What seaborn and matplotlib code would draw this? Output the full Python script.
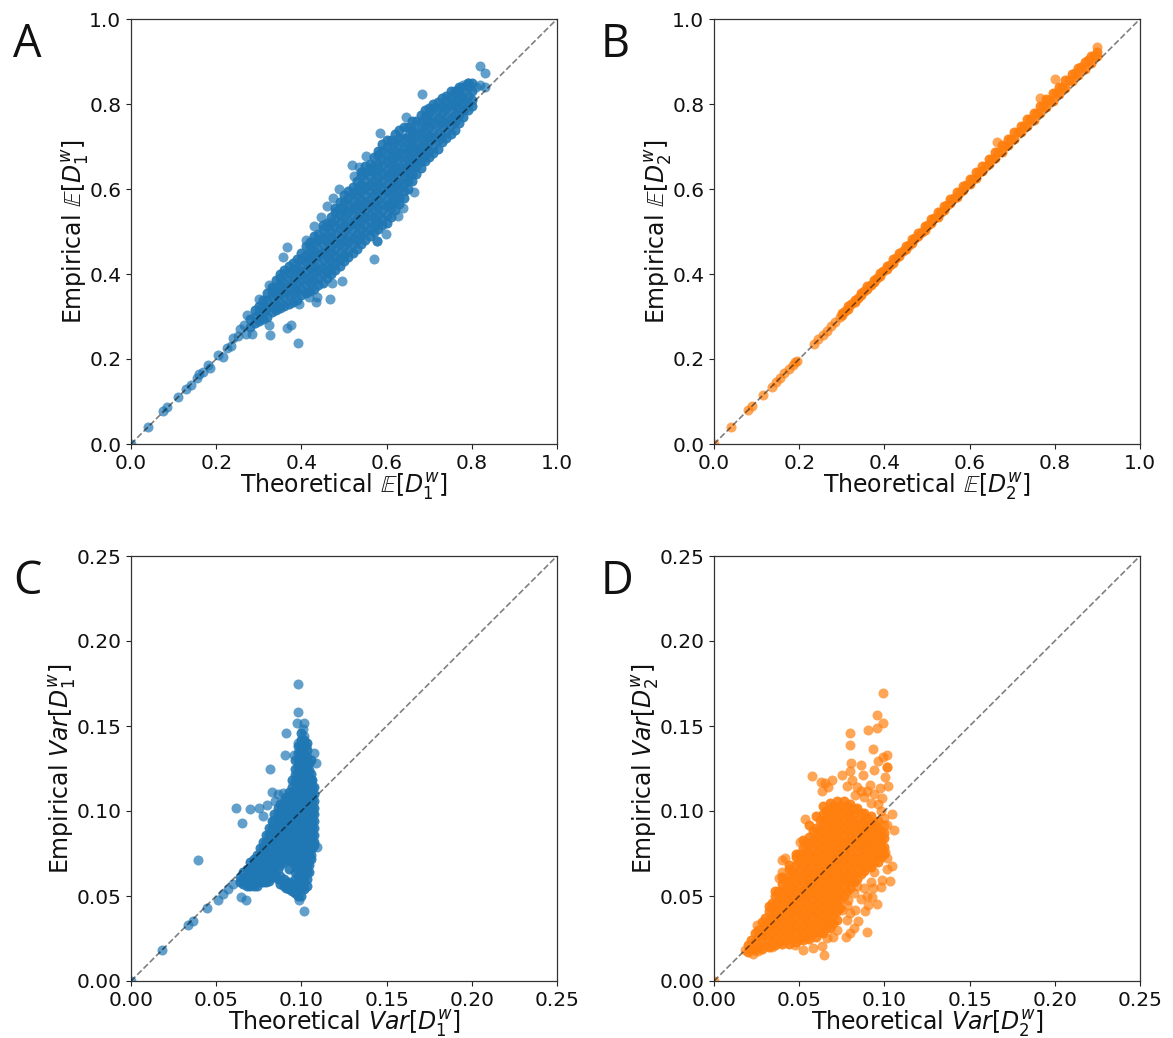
import pandas as pd
import matplotlib
matplotlib.use('Agg')
import matplotlib.pyplot as plt
import seaborn as sns

# values
# "body" = dense part of each cloud, one y list per x column; "edge" = loose points around it
a_body_x = [.28, .30, .32, .34, .36, .38, .40, .42, .44, .46, .48, .50, .52, .54, .56, .58, .60, .62, .64, .66, .68, .70, .72, .74, .76, .78, .80]
a_body_y = [
    [.275, .295],
    [.29, .31, .325],
    [.30, .32, .34, .355],
    [.315, .33, .35, .37, .385],
    [.325, .345, .36, .38, .40, .41],
    [.335, .355, .375, .39, .41, .425],
    [.35, .365, .385, .40, .42, .435, .45],
    [.36, .38, .395, .415, .43, .45, .465, .475],
    [.375, .39, .41, .425, .445, .46, .48, .495],
    [.39, .405, .42, .44, .455, .475, .49, .51, .52],
    [.41, .425, .44, .46, .475, .495, .51, .53, .545, .555],
    [.43, .445, .465, .48, .50, .515, .535, .55, .57, .585],
    [.45, .47, .485, .505, .52, .54, .555, .575, .59, .605],
    [.47, .49, .505, .525, .54, .56, .575, .595, .61, .63, .64],
    [.49, .505, .525, .54, .56, .575, .595, .61, .63, .645, .66],
    [.505, .52, .54, .555, .575, .59, .61, .625, .645, .66, .68, .69],
    [.52, .54, .56, .575, .595, .61, .63, .645, .665, .68, .70, .715],
    [.55, .57, .585, .605, .62, .64, .655, .675, .69, .71, .73],
    [.58, .595, .615, .63, .65, .665, .685, .70, .72, .745],
    [.62, .635, .655, .67, .69, .705, .725, .74, .76],
    [.65, .665, .685, .70, .72, .735, .755, .775],
    [.675, .69, .71, .725, .745, .76, .78, .79],
    [.695, .715, .73, .75, .765, .785, .805],
    [.72, .735, .755, .77, .79, .805, .82],
    [.74, .76, .775, .795, .81, .83],
    [.77, .785, .805, .82, .84],
    [.795, .81, .83, .85],
]
a_fill_x = [.29, .31, .33, .35, .37, .39, .41, .43, .45, .47, .49, .51, .53, .55, .57, .59, .61, .63, .65, .67, .69, .71, .73, .75, .77, .79]
a_fill_y = [
    [.285, .30, .315],
    [.295, .31, .325, .34],
    [.31, .325, .345, .36, .37],
    [.32, .335, .355, .375, .39, .40],
    [.33, .35, .37, .385, .405, .42],
    [.34, .36, .38, .40, .415, .435],
    [.355, .375, .39, .41, .43, .445, .465],
    [.365, .385, .405, .42, .44, .455, .475, .49],
    [.38, .40, .415, .435, .45, .47, .485, .505, .515],
    [.40, .415, .43, .45, .465, .485, .50, .52, .535],
    [.42, .435, .45, .47, .485, .505, .52, .54, .555, .57],
    [.44, .455, .475, .49, .51, .525, .545, .56, .58, .595],
    [.46, .48, .495, .515, .53, .55, .565, .585, .60, .62],
    [.48, .50, .515, .535, .55, .57, .585, .605, .62, .64, .655],
    [.50, .515, .535, .55, .57, .585, .605, .62, .64, .655, .675],
    [.515, .53, .55, .565, .585, .60, .62, .635, .655, .67, .69, .705],
    [.535, .555, .57, .59, .605, .625, .64, .66, .675, .695, .715],
    [.565, .58, .60, .615, .635, .65, .67, .685, .705, .72, .74],
    [.60, .62, .635, .655, .67, .69, .705, .725, .745],
    [.635, .655, .67, .69, .705, .725, .74, .76],
    [.665, .68, .70, .715, .735, .75, .77, .785],
    [.685, .70, .72, .735, .755, .77, .79, .80],
    [.71, .725, .745, .76, .78, .795, .815],
    [.73, .75, .765, .785, .80, .82, .83],
    [.755, .775, .79, .81, .825, .84],
    [.785, .80, .82, .84, .85],
]
a_edge_x = [.0, .04, .075, .085, .11, .13, .14, .155, .16, .17, .18, .185, .205, .215, .225, .235, .24, .25, .255, .265, .27, .285, .2715, .3012, .3247,
            .3247, .3262, .3669, .3747, .3927, .395, .4177, .4342, .4373, .467, .4709, .4944, .571, .5765, .5765, .5984, .6273, .6375, .664,
            .356, .3669, .4107, .4295, .4459, .4592, .4733, .4873, .5178, .524, .5358, .5507, .584, .646, .6836,
            .77, .78, .79, .81, .819, .82, .83, .8314]
a_edge_y = [.0, .04, .077, .088, .11, .13, .14, .155, .165, .17, .185, .178, .21, .205, .225, .23, .25, .255, .27, .28, .26, .2584, .304, .3407, .3744,
            .2803, .2568, .2725, .2803, .2372, .3297, .346, .335, .3453, .3407, .378, .3846, .4348, .4787, .4787, .495, .5375, .5547, .593,
            .441, .4638, .48, .513, .535, .561, .578, .6002, .656, .6315, .6527, .678, .7327, .77, .8236,
            .835, .845, .85, .84, .889, .845, .84, .874]

b_body_x = [.30, .315, .33, .345, .36, .375, .39, .405, .42, .435, .45, .465, .48, .495, .51, .525, .54, .555, .57, .585, .60,
            .615, .63, .645, .66, .675, .69, .705, .72, .735, .75, .765, .78, .795, .81, .825, .84, .855, .87, .885, .90]
b_body_y = [
    [.303, .308], [.318, .324], [.334, .34], [.35, .356], [.365, .372], [.381, .387], [.396, .403], [.411, .419], [.427, .435], [.442, .45],
    [.458, .466], [.473, .482], [.489, .497], [.504, .513], [.52, .529], [.535, .545], [.55, .56], [.566, .576], [.581, .592], [.597, .608],
    [.612, .624], [.627, .64], [.642, .655], [.658, .671], [.673, .687], [.688, .703], [.703, .718], [.718, .734], [.733, .749], [.748, .765],
    [.763, .78], [.778, .796], [.793, .811], [.808, .826], [.823, .841], [.838, .856], [.853, .871], [.868, .885], [.883, .899], [.897, .912], [.912, .922],
]
b_fill_x = [.3075, .3225, .3375, .3525, .3675, .3825, .3975, .4125, .4275, .4425, .4575, .4725, .4875, .5025, .5175, .5325, .5475, .5625, .5775, .5925,
            .6075, .6225, .6375, .6525, .6675, .6825, .6975, .7125, .7275, .7425, .7575, .7725, .7875, .8025, .8175, .8325, .8475, .8625, .8775, .8925]
b_fill_y = [
    [.3125], [.3285], [.344], [.36], [.375], [.391], [.407], [.422], [.438], [.453], [.469], [.484], [.50], [.516], [.531], [.547], [.562], [.578], [.593], [.609],
    [.624], [.64], [.655], [.671], [.686], [.702], [.717], [.733], [.748], [.764], [.779], [.795], [.81], [.826], [.841], [.857], [.872], [.888], [.903], [.914],
]
b_edge_x = [.0, .04, .08, .09, .115, .135, .145, .155, .165, .175, .185, .19, .195, .235, .245, .255, .265, .275, .285, .295, .664, .765, .80, .899]
b_edge_y = [.0, .04, .08, .09, .115, .135, .146, .156, .166, .176, .186, .192, .196, .236, .246, .257, .267, .277, .287, .298, .711, .814, .859, .934]

c_body_x = [.064, .068, .072, .0755, .079, .0825, .086, .0895, .093, .0965, .100, .103, .1055, .1075]
c_body_y = [
    [.061, .058],
    [.066, .062, .058, .056],
    [.072, .068, .064, .060, .056],
    [.078, .074, .070, .066, .062, .058],
    [.086, .082, .078, .074, .070, .066, .062, .058],
    [.094, .090, .086, .082, .078, .074, .070, .066, .061],
    [.102, .098, .094, .090, .086, .082, .078, .074, .070, .066, .060],
    [.106, .102, .098, .094, .090, .086, .082, .078, .074, .070, .060, .056],
    [.111, .107, .103, .099, .095, .091, .087, .083, .079, .075, .071, .066, .058, .054],
    [.130, .125, .121, .117, .113, .109, .105, .101, .097, .093, .089, .085, .081, .077, .073, .069, .064, .060, .056, .052],
    [.146, .142, .138, .134, .130, .126, .122, .118, .114, .110, .106, .102, .098, .094, .090, .086, .082, .078, .074, .070, .066, .062, .058, .054, .050],
    [.140, .136, .132, .128, .124, .120, .116, .112, .108, .104, .100, .096, .092, .088, .084, .080, .076, .072, .068, .064, .060, .056],
    [.130, .122, .118, .114, .110, .106, .102, .098, .094, .090, .086, .082, .078, .074, .072],
    [.114, .110, .106, .102, .098, .094, .090, .086, .082, .080],
]
c_fill_x = [.066, .070, .0737, .0772, .0807, .0842, .0877, .0912, .0947, .0982, .1015, .1043, .1065]
c_fill_y = [
    [.064, .060, .057],
    [.070, .066, .062, .058, .056],
    [.074, .070, .066, .062, .058, .056],
    [.082, .078, .074, .070, .066, .062, .058],
    [.090, .086, .082, .078, .074, .070, .066, .062, .059],
    [.098, .094, .090, .086, .082, .078, .074, .070, .066, .062],
    [.104, .100, .096, .092, .088, .084, .080, .076, .072, .068, .062, .057],
    [.108, .104, .100, .096, .092, .088, .084, .080, .076, .072, .058, .055],
    [.118, .114, .110, .106, .102, .098, .094, .090, .086, .082, .078, .074, .070, .056, .053],
    [.138, .134, .130, .126, .122, .118, .114, .110, .106, .102, .098, .094, .090, .086, .082, .078, .074, .070, .066, .062, .058, .054, .050],
    [.142, .138, .134, .130, .126, .122, .118, .114, .110, .106, .102, .098, .094, .090, .086, .082, .078, .074, .070, .066, .062, .058, .054],
    [.128, .124, .120, .116, .112, .108, .104, .100, .096, .092, .088, .084, .080, .076, .072, .068, .064],
    [.118, .114, .110, .106, .102, .098, .094, .090, .086, .082, .078],
]
c_edge_x = [.0, .018, .0335, .0364, .0393, .0446, .0511, .054, .057, .060, .0646, .0675, .0651, .0616, .0698, .0751, .0775, .0798, .0816, .0827, .0845, .086, .0892,
            .0904, .091, .0955, .0975, .098, .098, .098, .101, .1014, .1015, .1015, .0986, .1027, .1073, .1086, .1092]
c_edge_y = [.0, .018, .033, .0353, .0712, .043, .0476, .051, .054, .057, .0494, .0476, .093, .102, .1012, .102, .097, .1035, .1247, .111, .106, .110, .1105,
            .133, .146, .133, .152, .1747, .158, .140, .148, .144, .152, .0412, .0476, .138, .134, .128, .0788]

d_body_x = [.020, .024, .028, .032, .036, .040, .044, .048, .052, .056, .060, .064, .068, .072, .076, .080, .084, .088, .092, .096, .100]
d_body_y = [
    [.017, .021],
    [.018, .023, .028],
    [.019, .024, .029, .035],
    [.020, .026, .031, .036, .041, .044],
    [.021, .025, .030, .035, .040, .045, .050, .053],
    [.022, .027, .032, .037, .042, .047, .052, .057, .061],
    [.022, .026, .031, .036, .041, .046, .051, .056, .061, .066, .068],
    [.023, .028, .033, .038, .043, .048, .053, .058, .063, .068, .073, .075],
    [.024, .028, .033, .038, .043, .048, .053, .058, .063, .068, .073, .078, .083],
    [.025, .030, .035, .040, .045, .050, .055, .060, .065, .070, .075, .080, .085, .092],
    [.026, .030, .035, .040, .045, .050, .055, .060, .065, .070, .075, .080, .085, .090, .097],
    [.028, .033, .038, .043, .048, .053, .058, .063, .068, .073, .078, .083, .088, .093, .098, .103],
    [.031, .035, .040, .045, .050, .055, .060, .065, .070, .075, .080, .085, .090, .095, .100, .105],
    [.036, .041, .046, .051, .056, .061, .066, .071, .076, .081, .086, .091, .096, .101, .106],
    [.050, .055, .060, .065, .070, .075, .080, .085, .090, .095, .100, .106],
    [.055, .059, .064, .069, .074, .079, .084, .089, .094, .099, .104],
    [.060, .065, .070, .075, .080, .085, .090, .095, .102],
    [.065, .069, .074, .079, .084, .089, .094, .099],
    [.067, .072, .077, .082, .087, .092, .097],
    [.070, .075, .080, .085, .090, .094],
    [.075, .079, .084, .087],
]
d_fill_x = [.022, .026, .030, .034, .038, .042, .046, .050, .054, .058, .062, .066, .070, .074, .078, .082, .086, .090, .094, .098]
d_fill_y = [
    [.019, .024],
    [.020, .026, .030],
    [.021, .027, .033, .037],
    [.023, .028, .033, .038, .043, .046],
    [.023, .028, .033, .038, .043, .048, .053],
    [.024, .029, .034, .039, .044, .049, .054, .059],
    [.025, .030, .035, .040, .045, .050, .055, .060, .065],
    [.025, .030, .035, .040, .045, .050, .055, .060, .065, .070, .075],
    [.026, .031, .036, .041, .046, .051, .056, .061, .066, .071, .076, .081],
    [.028, .033, .038, .043, .048, .053, .058, .063, .068, .073, .078, .083, .088],
    [.029, .034, .039, .044, .049, .054, .059, .064, .069, .074, .079, .084, .089, .095],
    [.031, .036, .041, .046, .051, .056, .061, .066, .071, .076, .081, .086, .091, .096, .100],
    [.034, .039, .044, .049, .054, .059, .064, .069, .074, .079, .084, .089, .094, .099, .103],
    [.043, .048, .053, .058, .063, .068, .073, .078, .083, .088, .093, .098, .103],
    [.053, .058, .063, .068, .073, .078, .083, .088, .093, .098, .103],
    [.058, .063, .068, .073, .078, .083, .088, .093, .098, .101],
    [.063, .068, .073, .078, .083, .088, .093, .099],
    [.067, .072, .077, .082, .087, .092, .096],
    [.070, .075, .080, .085, .090, .093],
    [.073, .078, .083, .088],
]
d_edge_x = [.0, .099, .0957, .0994, .0957, .0902, .0798, .0798, .0931, .1013, .099, .0962, .0802, .0861, .1013, .1013, .0798, .0941, .0573, .0626, .0651, .069, .0749, .0671, .0636,
            .0872, .0808, .1003, .1023, .0916, .0779, .0837, .0974, .0827, .0984, .1045, .1058, .1013, .0534, .0505, .0417, .0397, .0397, .0384, .025,
            .1003, .1013, .1043, .1013, .1033, .0984, .098, .0935, .0929, .0955, .0886, .0906, .0827, .0847, .0822, .0896, .0773, .0798, .0788, .0779,
            .0661, .0632, .0583, .0646, .0524, .0475, .0339, .0227, .0182, .026,
            .088, .092, .096, .094, .086, .09, .098, .0995, .10, .078, .082, .086, .088, .092, .08, .075, .072, .07, .094, .084, .09, .076]
d_edge_y = [.0, .1692, .1564, .1519, .149, .1476, .146, .1386, .1366, .1327, .1315, .1296, .1282, .1272, .1257, .1257, .1237, .1241, .1208, .1172, .1163, .1182, .121, .1143, .112,
            .1212, .1182, .1198, .1147, .1153, .1147, .1143, .1133, .1094, .1074, .0982, .0886, .0918, .0953, .082, .0722, .0712, .0643, .0604, .033,
            .0761, .0722, .0678, .0659, .0588, .0594, .0551, .0545, .0492, .0453, .0414, .0447, .0418, .0353, .031, .0288, .0257, .0281, .0477, .0359,
            .0251, .0206, .0192, .0155, .0183, .0212, .0202, .0159, .0183, .0177,
            .108, .105, .104, .110, .112, .112, .100, .092, .096, .045, .052, .048, .055, .058, .04, .042, .03, .026, .064, .056, .05, .06]

panel_letters = ['A', 'B', 'C', 'D']
mean_ticks = [0.0, 0.2, 0.4, 0.6, 0.8, 1.0]
var_ticks = [0.0, 0.05, 0.10, 0.15, 0.20, 0.25]
blue = '#1f77b4'
orange = '#ff7f0e'


def make_frame(body_x, body_y):
    rows = []
    for x, ys in zip(body_x, body_y):
        for y in ys:
            rows.append({'theoretical': x, 'empirical': y})
    return pd.DataFrame(rows)


panels = [
    (make_frame(a_body_x + a_fill_x, a_body_y + a_fill_y), a_edge_x, a_edge_y, blue, mean_ticks, r'\mathbb{E}[D_1^w]'),
    (make_frame(b_body_x + b_fill_x, b_body_y + b_fill_y), b_edge_x, b_edge_y, orange, mean_ticks, r'\mathbb{E}[D_2^w]'),
    (make_frame(c_body_x + c_fill_x, c_body_y + c_fill_y), c_edge_x, c_edge_y, blue, var_ticks, r'Var[D_1^w]'),
    (make_frame(d_body_x + d_fill_x, d_body_y + d_fill_y), d_edge_x, d_edge_y, orange, var_ticks, r'Var[D_2^w]'),
]

sns.set_style('ticks')
plt.rcParams['font.family'] = ['DejaVu Sans']
plt.rcParams['mathtext.fontset'] = 'dejavusans'

fig, axes = plt.subplots(2, 2, figsize=(11.73, 10.38), dpi=100)
fig.subplots_adjust(left=131 / 1173, right=1140 / 1173, top=1 - 19 / 1038, bottom=1 - 981 / 1038,
                    wspace=157 / 426, hspace=112 / 425)

letter_pos = [(13, 57), (601, 57), (13, 594), (601, 594)]
for ax, (df, edge_x, edge_y, color, ticks, name), letter, pos in zip(axes.flat, panels, panel_letters, letter_pos):
    # the body is drawn more opaque: the real cloud has far more overlapping points
    sns.scatterplot(data=df, x='theoretical', y='empirical', color=color, s=52, alpha=0.9,
                    linewidth=0, legend=False, ax=ax)
    sns.scatterplot(x=edge_x, y=edge_y, color=color, s=52, alpha=0.7,
                    linewidth=0, legend=False, ax=ax)
    lim = ticks[-1]
    ax.plot([0, lim], [0, lim], 'k--', alpha=0.5, linewidth=1.2, zorder=5)
    ax.set_xlim(0, lim)
    ax.set_ylim(0, lim)
    ax.set_xticks(ticks)
    ax.set_yticks(ticks)
    ax.set_xticklabels(['{:.2f}'.format(t) if lim < 1 else '{:.1f}'.format(t) for t in ticks])
    ax.set_yticklabels(['{:.2f}'.format(t) if lim < 1 else '{:.1f}'.format(t) for t in ticks])
    ax.tick_params(labelsize=14.5, length=3.5, width=0.8, pad=3.5, color='#222222', labelcolor='#111111')
    ax.set_xlabel('Theoretical $' + name + '$', fontsize=17, labelpad=-1, color='#111111')
    ax.set_ylabel('Empirical $' + name + '$', fontsize=17, labelpad=-1.5, color='#111111')
    for spine in ax.spines.values():
        spine.set_visible(True)
        spine.set_linewidth(0.9)
        spine.set_color('#333333')
    fig.text(pos[0] / 1173, 1 - pos[1] / 1038, letter, fontsize=32.5, family='Open Sans', color='#111111', ha='left', va='baseline')

fig.savefig('out.png', dpi=100)
